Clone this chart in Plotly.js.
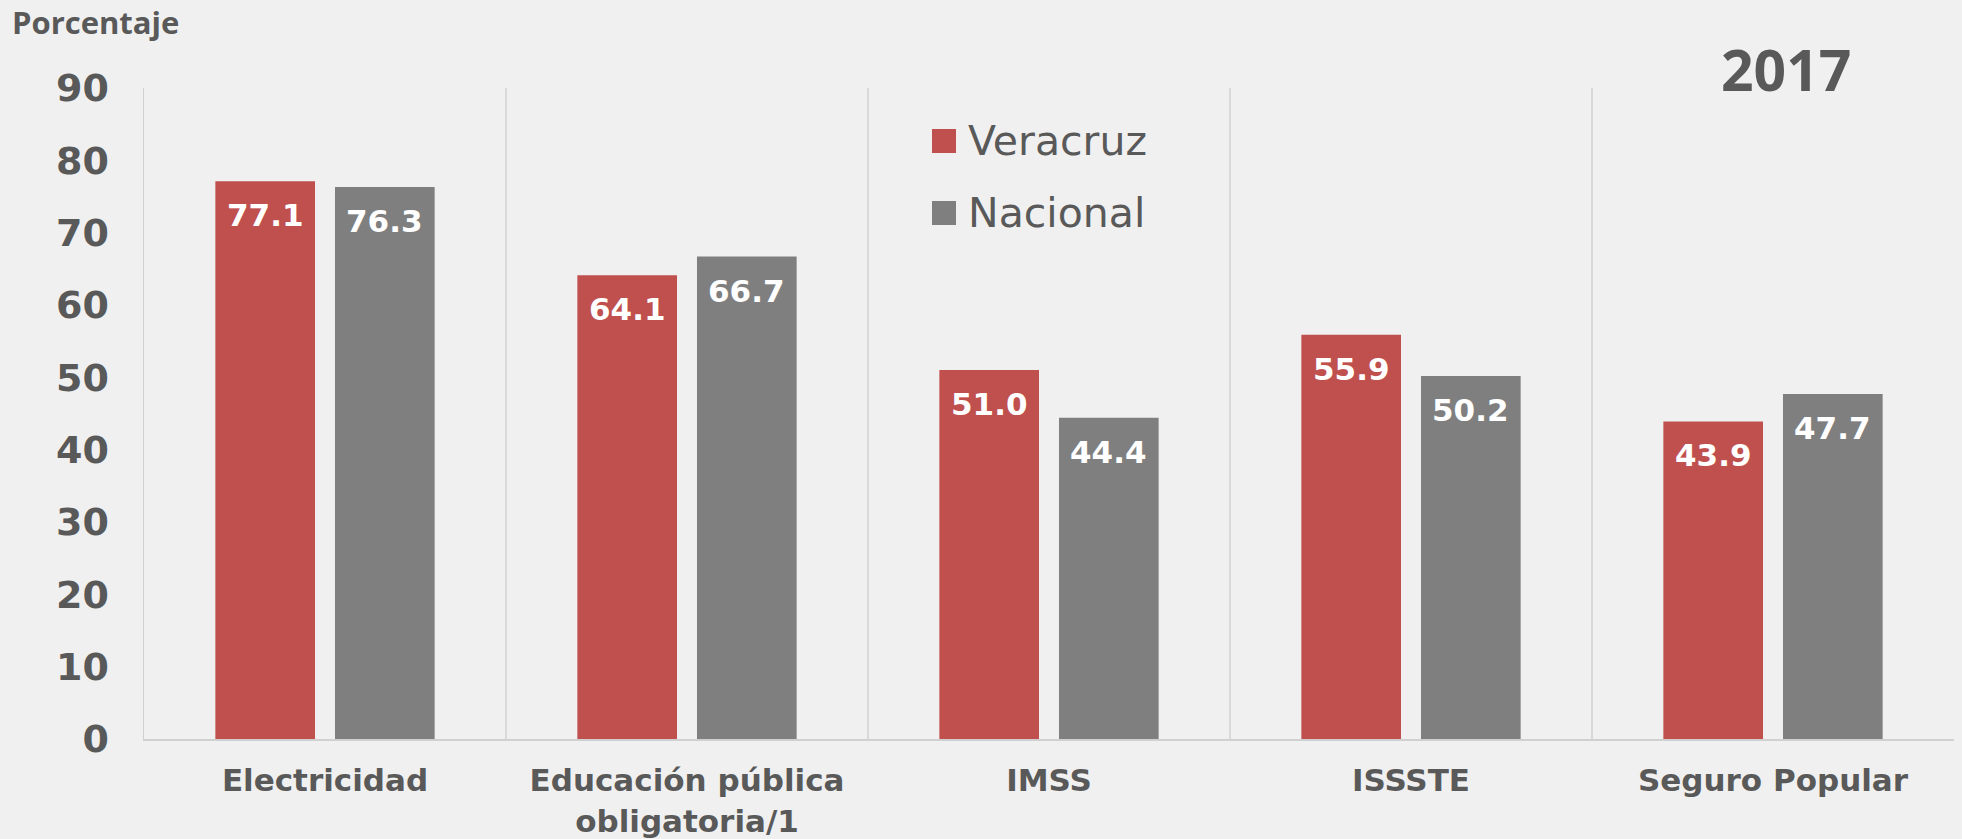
<!DOCTYPE html>
<html>
<head>
<meta charset="utf-8">
<script src="https://cdn.plot.ly/plotly-3.0.1.min.js"></script>
<style>
  html, body { margin: 0; padding: 0; background: #f0f0f0; }
  #chart { width: 1962px; height: 839px; }
</style>
</head>
<body>
<div id="chart"></div>
<script>
// ---- data ----
const categories = ["Electricidad", "Educación pública<br>obligatoria/1", "IMSS", "ISSSTE", "Seguro Popular"];
const seriesNames = ["Veracruz", "Nacional"];
const veracruz = [77.1, 64.1, 51.0, 55.9, 43.9];
const nacional = [76.3, 66.7, 44.4, 50.2, 47.7];
const yTicks = [0, 10, 20, 30, 40, 50, 60, 70, 80, 90];
const yearLabel = "2017";
const yAxisLabel = "Porcentaje";

// ---- styling ----
const W = 1962, H = 839;
const M = { l: 144, r: 8, t: 88, b: 100 };
const colors = ["#C0504D", "#7F7F7F"];
const textColor = "#595959";
const bargap = 0.339, bargroupgap = 0.167;

const plotW = W - M.l - M.r, plotH = H - M.t - M.b;
const px2x = p => (p - M.l) / plotW;
const px2y = p => 1 - (p - M.t) / plotH;

const allSeries = [veracruz, nacional];
const traces = allSeries.map((vals, k) => ({
  type: "bar",
  name: seriesNames[k],
  x: categories,
  y: vals,
  marker: { color: colors[k] },
  hoverinfo: "x+y+name",
  showlegend: false
}));

// value labels inside bar tops
const nS = allSeries.length;
const slot = (1 - bargap) / nS;
const annotations = [];
allSeries.forEach((vals, k) => {
  const off = -((1 - bargap) / 2) + slot * (k + 0.5);
  vals.forEach((v, i) => {
    annotations.push({
      xref: "x", yref: "y", x: i + off, y: v,
      text: v.toFixed(1), showarrow: false,
      yanchor: "top", xanchor: "center", yshift: -14,
      font: { family: "DejaVu Sans", size: 31, color: "#ffffff", weight: 700 }
    });
  });
});

// manual legend
const shapes = [];
const legendTop = [129, 201];
seriesNames.forEach((nm, k) => {
  shapes.push({
    type: "rect", xref: "paper", yref: "paper",
    x0: px2x(932), x1: px2x(956), y0: px2y(legendTop[k] + 24), y1: px2y(legendTop[k]),
    fillcolor: colors[k], line: { width: 0 }
  });
  annotations.push({
    xref: "paper", yref: "paper", x: px2x(966), y: px2y(legendTop[k] + 12),
    xanchor: "left", yanchor: "middle", showarrow: false, text: nm,
    font: { family: "DejaVu Sans", size: 41, color: textColor }
  });
});

annotations.push({
  xref: "paper", yref: "paper", x: px2x(1786), y: px2y(69),
  xanchor: "center", yanchor: "middle", showarrow: false, text: "<b>" + yearLabel + "</b>",
  font: { family: "Open Sans", size: 57, color: textColor }
});
annotations.push({
  xref: "paper", yref: "paper", x: px2x(10), y: px2y(22),
  xanchor: "left", yanchor: "middle", showarrow: false, text: "<b>" + yAxisLabel + "</b>",
  font: { family: "Open Sans", size: 31, color: textColor }
});

const layout = {
  width: W, height: H,
  margin: M,
  paper_bgcolor: "#f0f0f0",
  plot_bgcolor: "rgba(0,0,0,0)",
  barmode: "group",
  bargap: bargap,
  bargroupgap: bargroupgap,
  showlegend: false,
  xaxis: {
    type: "category",
    tickson: "boundaries",
    showgrid: true,
    gridcolor: "#d9d9d9",
    gridwidth: 1.5,
    ticks: "",
    showline: true,
    linecolor: "#d0d0d0",
    linewidth: 2,
    ticklabelstandoff: 13,
    tickfont: { family: "DejaVu Sans", size: 31, color: textColor, weight: 700 },
    fixedrange: true
  },
  yaxis: {
    range: [0, 90],
    tickvals: yTicks,
    ticktext: yTicks.map(String),
    showgrid: false,
    zeroline: false,
    showline: true,
    linecolor: "#d0d0d0",
    linewidth: 1.5,
    ticks: "",
    ticklabelstandoff: 26,
    tickfont: { family: "DejaVu Sans", size: 38, color: textColor, weight: 700 },
    fixedrange: true
  },
  annotations: annotations,
  shapes: shapes
};

Plotly.newPlot("chart", traces, layout, { displayModeBar: false, staticPlot: true });
</script>
</body>
</html>
